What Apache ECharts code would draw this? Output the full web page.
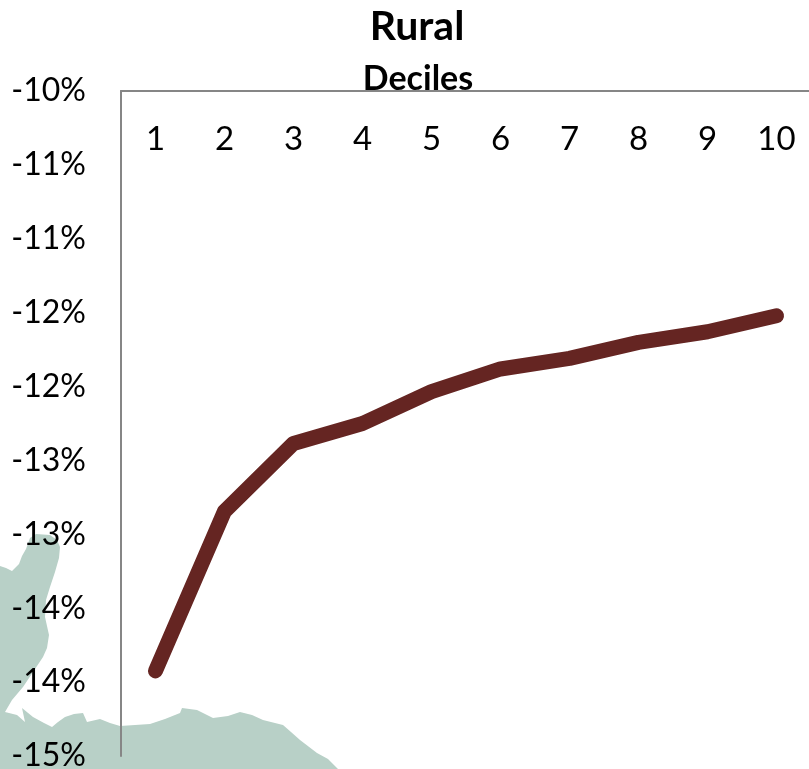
<!DOCTYPE html>
<html>
<head>
<meta charset="utf-8">
<style>html,body{margin:0;padding:0;background:#fff}#c{width:809px;height:769px}</style>
<script src="https://cdn.jsdelivr.net/npm/echarts@6/dist/echarts.min.js"></script>
</head>
<body>
<div id="c"></div>
<script>
const deciles = ['1','2','3','4','5','6','7','8','9','10'];
const ruralValues = [-14.36,-13.16,-12.65,-12.50,-12.26,-12.09,-12.01,-11.89,-11.81,-11.69];
const mapOutline = [[0,566],[6,568],[12,571],[19,564],[22,556],[26,549],[30,538],[36,534],[50,535],[57,540],[60,547],[59,558],[55,572],[50,587],[46,600],[45,617],[49,635],[47,648],[43,657],[33,672],[23,687],[12,700],[5,712],[17,715],[25,722],[22,708],[33,717],[44,723],[52,727],[58,722],[65,717],[74,714],[83,713],[87,722],[100,719],[110,723],[120,726],[135,725],[150,724],[165,719],[180,713],[182,708],[197,710],[205,714],[213,718],[228,716],[240,712],[252,715],[263,720],[283,725],[291,732],[300,740],[317,753],[328,759],[338,769],[0,769]];
const chart = echarts.init(document.getElementById('c'));
const font = 'Lato, "Open Sans", sans-serif';
chart.setOption({
  animation:false,
  backgroundColor:'#fff',
  title:[
    {text:'Rural',left:412,top:1,textAlign:'center',textStyle:{fontFamily:font,fontSize:41,fontWeight:'bold',color:'#000'}},
    {text:'Deciles',left:413,top:57,textAlign:'center',textStyle:{fontFamily:font,fontSize:34,fontWeight:'bold',color:'#000'}}
  ],
  graphic:[{type:'polygon',z:-10,silent:true,shape:{points:mapOutline},style:{fill:'#b8d0c7'}}],
  grid:{left:121,top:91,width:690,height:665,containLabel:false,outerBoundsMode:'none'},
  xAxis:{type:'category',data:deciles,position:'top',boundaryGap:true,
    axisLine:{onZero:false,lineStyle:{color:'#868686',width:2}},axisTick:{show:false},
    axisLabel:{inside:true,margin:32,fontFamily:font,fontSize:33,color:'#000',interval:0},splitLine:{show:false}},
  yAxis:{type:'value',min:-15,max:-10,interval:5/9,
    axisLine:{show:true,onZero:false,lineStyle:{color:'#868686',width:2}},axisTick:{show:false},splitLine:{show:false},
    axisLabel:{margin:35,fontFamily:font,fontSize:32,color:'#000',formatter:v=>v.toFixed(0)+'%'}},
  series:[{type:'line',data:ruralValues,showSymbol:false,symbol:'none',smooth:false,
    lineStyle:{color:'#652522',width:15,cap:'round',join:'round'}}]
});
</script>
</body>
</html>
